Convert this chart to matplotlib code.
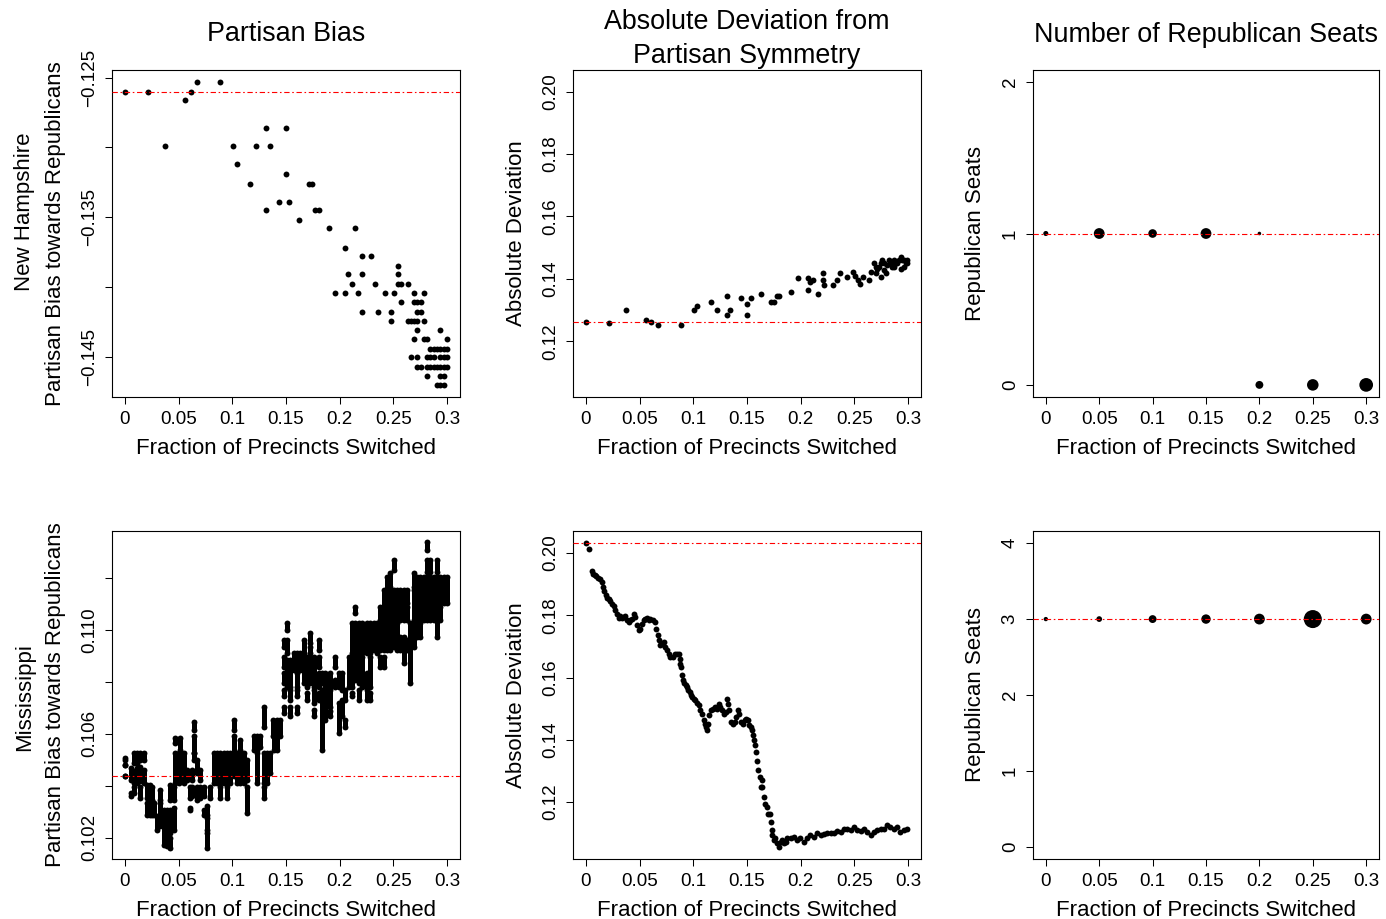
import numpy as np
import matplotlib
matplotlib.use("Agg")
import matplotlib.pyplot as plt

plt.rcParams['font.family'] = ['Liberation Sans', 'DejaVu Sans']

# ---------------- data ----------------
frac_ticks = [0, 0.05, 0.1, 0.15, 0.2, 0.25, 0.3]
frac_labels = ["0", "0.05", "0.1", "0.15", "0.2", "0.25", "0.3"]

# New Hampshire, partisan bias (x = fraction switched, y = bias)
nh_bias_pts = [
    (0.0676, -0.1253), (0.0887, -0.1253),
    (0.0000, -0.1260), (0.0217, -0.1260), (0.0614, -0.1260),
    (0.0555, -0.1266),
    (0.1314, -0.1286), (0.1504, -0.1286),
    (0.0369, -0.1299), (0.1011, -0.1299), (0.1225, -0.1299), (0.1349, -0.1299),
    (0.1042, -0.1312), (0.1504, -0.1319),
    (0.1166, -0.1326), (0.1711, -0.1326), (0.1745, -0.1326),
    (0.1438, -0.1339), (0.1531, -0.1339),
    (0.1314, -0.1345), (0.1773, -0.1345), (0.1807, -0.1345),
    (0.1624, -0.1352),
    (0.1897, -0.1358), (0.2142, -0.1358),
    (0.2049, -0.1372),
    (0.2204, -0.1378), (0.2294, -0.1378),
    (0.2542, -0.1385),
    (0.2080, -0.1391), (0.2204, -0.1391), (0.2542, -0.1391),
    (0.2111, -0.1398), (0.2325, -0.1398), (0.2542, -0.1398), (0.2573, -0.1398), (0.2632, -0.1398),
    (0.1959, -0.1404), (0.2049, -0.1404), (0.2173, -0.1404), (0.2418, -0.1404),
    (0.2508, -0.1404), (0.2691, -0.1404), (0.2784, -0.1404),
    (0.2573, -0.1411), (0.2691, -0.1411), (0.2722, -0.1411), (0.2753, -0.1411),
    (0.2204, -0.1418), (0.2356, -0.1418), (0.2480, -0.1418), (0.2722, -0.1418), (0.2753, -0.1418),
    (0.2480, -0.1424), (0.2632, -0.1424), (0.2663, -0.1424), (0.2691, -0.1424),
    (0.2722, -0.1424), (0.2784, -0.1424),
    (0.2722, -0.1431), (0.2936, -0.1431),
    (0.2691, -0.1437), (0.2784, -0.1437), (0.2815, -0.1437), (0.2998, -0.1437),
    (0.2843, -0.1444), (0.2874, -0.1444), (0.2905, -0.1444), (0.2936, -0.1444),
    (0.2967, -0.1444), (0.2998, -0.1444),
    (0.2663, -0.1450), (0.2722, -0.1450), (0.2815, -0.1450), (0.2843, -0.1450),
    (0.2874, -0.1450), (0.2936, -0.1450), (0.2967, -0.1450), (0.2998, -0.1450),
    (0.2722, -0.1457), (0.2753, -0.1457), (0.2815, -0.1457), (0.2843, -0.1457),
    (0.2874, -0.1457), (0.2905, -0.1457), (0.2936, -0.1457), (0.2967, -0.1457), (0.2998, -0.1457),
    (0.2815, -0.1464), (0.2936, -0.1464), (0.2967, -0.1464),
    (0.2905, -0.1470), (0.2936, -0.1470), (0.2967, -0.1470),
]
nh_bias_orig = -0.1260

# New Hampshire, absolute deviation from symmetry
nh_dev_pts = [
    (0.0000, 0.1261), (0.0214, 0.1258), (0.0369, 0.1299), (0.0556, 0.1267),
    (0.0610, 0.1261), (0.0673, 0.1253), (0.0887, 0.1254), (0.1010, 0.1299),
    (0.1036, 0.1313), (0.1161, 0.1325), (0.1222, 0.1299), (0.1315, 0.1346),
    (0.1315, 0.1286), (0.1346, 0.1299), (0.1441, 0.1338), (0.1503, 0.1320),
    (0.1503, 0.1286), (0.1534, 0.1338), (0.1627, 0.1352), (0.1720, 0.1326),
    (0.1750, 0.1326), (0.1780, 0.1346), (0.1800, 0.1346), (0.1911, 0.1358),
    (0.1973, 0.1404), (0.2065, 0.1404), (0.2087, 0.1391), (0.2118, 0.1398),
    (0.2065, 0.1365), (0.2159, 0.1352), (0.2211, 0.1419), (0.2211, 0.1398),
    (0.2220, 0.1380), (0.2304, 0.1380), (0.2335, 0.1398), (0.2366, 0.1419),
    (0.2428, 0.1406), (0.2490, 0.1422), (0.2506, 0.1411), (0.2537, 0.1398),
    (0.2553, 0.1385), (0.2584, 0.1407), (0.2637, 0.1398), (0.2652, 0.1422),
    (0.2683, 0.1450), (0.2699, 0.1418), (0.2714, 0.1431), (0.2730, 0.1439),
    (0.2745, 0.1407), (0.2761, 0.1461), (0.2776, 0.1428), (0.2792, 0.1418),
    (0.2807, 0.1445), (0.2823, 0.1461), (0.2839, 0.1450), (0.2854, 0.1439),
    (0.2870, 0.1461), (0.2885, 0.1450), (0.2901, 0.1450), (0.2916, 0.1461),
    (0.2932, 0.1471), (0.2932, 0.1431), (0.2947, 0.1461), (0.2963, 0.1461),
    (0.2978, 0.1450), (0.2994, 0.1450), (0.2994, 0.1461), (0.2963, 0.1439),
    (0.2870, 0.1439), (0.2776, 0.1450), (0.2745, 0.1450), (0.2699, 0.1439),
]
nh_dev_orig = 0.1261

# New Hampshire, seats (relative frequency sets the dot size)
nh_seat_x = [0, 0.05, 0.1, 0.15, 0.2, 0.2, 0.25, 0.3]
nh_seat_y = [1, 1, 1, 1, 1, 0, 0, 0]
nh_seat_freq = [0.94, 2.0, 1.6, 2.0, 0.66, 1.46, 2.14, 2.54]
nh_seat_orig = 1

# Mississippi, partisan bias: vertical runs of stacked dots (x, top, bottom)
ms_bias_runs = [
    (0.0000, 0.10437, 0.10437),
    (0.0005, 0.10506, 0.10500), (0.0005, 0.10481, 0.10481),
    (0.0057, 0.10468, 0.10423), (0.0057, 0.10372, 0.10359),
    (0.0082, 0.10526, 0.10487), (0.0082, 0.10455, 0.10410), (0.0082, 0.10397, 0.10372),
    (0.0113, 0.10526, 0.10487), (0.0113, 0.10468, 0.10410),
    (0.0144, 0.10526, 0.10500), (0.0144, 0.10474, 0.10417), (0.0144, 0.10397, 0.10353),
    (0.0175, 0.10526, 0.10500), (0.0175, 0.10462, 0.10410),
    (0.0206, 0.10404, 0.10353), (0.0206, 0.10333, 0.10288),
    (0.0237, 0.10404, 0.10353), (0.0237, 0.10333, 0.10288),
    (0.0253, 0.10397, 0.10346), (0.0253, 0.10340, 0.10288),
    (0.0268, 0.10333, 0.10288),
    (0.0299, 0.10282, 0.10231),
    (0.0330, 0.10385, 0.10346), (0.0330, 0.10333, 0.10244),
    (0.0361, 0.10308, 0.10263), (0.0361, 0.10244, 0.10173),
    (0.0392, 0.10308, 0.10218), (0.0392, 0.10218, 0.10167),
    (0.0423, 0.10404, 0.10346), (0.0423, 0.10308, 0.10218), (0.0423, 0.10199, 0.10160),
    (0.0454, 0.10397, 0.10346), (0.0454, 0.10314, 0.10231),
    (0.0470, 0.10583, 0.10564), (0.0470, 0.10526, 0.10410),
    (0.0501, 0.10526, 0.10410),
    (0.0516, 0.10583, 0.10538), (0.0516, 0.10526, 0.10423),
    (0.0547, 0.10526, 0.10410),
    (0.0578, 0.10462, 0.10423),
    (0.0603, 0.10397, 0.10353), (0.0603, 0.10314, 0.10308),
    (0.0625, 0.10462, 0.10423), (0.0625, 0.10397, 0.10359),
    (0.0641, 0.10647, 0.10615), (0.0641, 0.10590, 0.10526), (0.0641, 0.10526, 0.10500),
    (0.0672, 0.10500, 0.10449), (0.0672, 0.10397, 0.10346),
    (0.0703, 0.10462, 0.10423), (0.0703, 0.10397, 0.10353),
    (0.0734, 0.10397, 0.10359), (0.0734, 0.10308, 0.10288),
    (0.0765, 0.10321, 0.10288), (0.0765, 0.10276, 0.10231), (0.0765, 0.10218, 0.10160),
    (0.0796, 0.10397, 0.10353),
    (0.0827, 0.10526, 0.10410),
    (0.0858, 0.10526, 0.10410),
    (0.0889, 0.10526, 0.10410), (0.0889, 0.10397, 0.10353),
    (0.0920, 0.10526, 0.10410),
    (0.0951, 0.10526, 0.10410), (0.0951, 0.10397, 0.10353),
    (0.0982, 0.10526, 0.10410),
    (0.1013, 0.10654, 0.10615), (0.1013, 0.10590, 0.10526), (0.1013, 0.10526, 0.10436),
    (0.1044, 0.10526, 0.10410),
    (0.1075, 0.10577, 0.10538), (0.1075, 0.10526, 0.10410),
    (0.1106, 0.10526, 0.10410),
    (0.1137, 0.10500, 0.10423), (0.1137, 0.10397, 0.10295),
    (0.1199, 0.10590, 0.10538),
    (0.1230, 0.10590, 0.10538), (0.1230, 0.10526, 0.10410),
    (0.1261, 0.10590, 0.10551),
    (0.1292, 0.10705, 0.10628), (0.1292, 0.10526, 0.10410), (0.1292, 0.10397, 0.10353),
    (0.1323, 0.10526, 0.10410),
    (0.1354, 0.10526, 0.10449),
    (0.1377, 0.10654, 0.10590),
    (0.1385, 0.10590, 0.10538),
    (0.1416, 0.10654, 0.10590), (0.1416, 0.10590, 0.10538),
    (0.1447, 0.10654, 0.10590),
    (0.1478, 0.10962, 0.10936), (0.1478, 0.10897, 0.10859), (0.1478, 0.10833, 0.10795),
    (0.1478, 0.10769, 0.10744), (0.1478, 0.10705, 0.10679),
    (0.1509, 0.11026, 0.11000), (0.1509, 0.10962, 0.10910), (0.1509, 0.10885, 0.10782),
    (0.1540, 0.10885, 0.10782), (0.1540, 0.10769, 0.10731), (0.1540, 0.10705, 0.10667),
    (0.1571, 0.10910, 0.10846),
    (0.1602, 0.10910, 0.10846), (0.1602, 0.10833, 0.10782), (0.1602, 0.10769, 0.10744),
    (0.1602, 0.10705, 0.10679),
    (0.1633, 0.10910, 0.10846),
    (0.1664, 0.10962, 0.10910), (0.1664, 0.10897, 0.10795),
    (0.1695, 0.10897, 0.10782), (0.1695, 0.10756, 0.10731),
    (0.1726, 0.10987, 0.10949), (0.1726, 0.10936, 0.10910), (0.1726, 0.10897, 0.10795),
    (0.1757, 0.10897, 0.10782), (0.1757, 0.10769, 0.10718), (0.1757, 0.10692, 0.10667),
    (0.1804, 0.10962, 0.10923), (0.1804, 0.10897, 0.10859), (0.1804, 0.10833, 0.10782),
    (0.1804, 0.10756, 0.10731),
    (0.1835, 0.10833, 0.10795), (0.1835, 0.10769, 0.10538),
    (0.1866, 0.10833, 0.10654),
    (0.1912, 0.10833, 0.10782), (0.1912, 0.10769, 0.10705), (0.1912, 0.10686, 0.10667),
    (0.1958, 0.10897, 0.10859), (0.1958, 0.10808, 0.10782),
    (0.1989, 0.10833, 0.10782), (0.1989, 0.10718, 0.10602),
    (0.2020, 0.10833, 0.10769), (0.2020, 0.10731, 0.10667),
    (0.2051, 0.10769, 0.10731), (0.2051, 0.10654, 0.10628),
    (0.2083, 0.10897, 0.10782),
    (0.2114, 0.11026, 0.10910), (0.2114, 0.10897, 0.10846), (0.2114, 0.10833, 0.10782),
    (0.2114, 0.10756, 0.10744),
    (0.2145, 0.11090, 0.11064), (0.2145, 0.11026, 0.10910), (0.2145, 0.10897, 0.10808),
    (0.2176, 0.11026, 0.10910), (0.2176, 0.10897, 0.10795), (0.2176, 0.10769, 0.10731),
    (0.2207, 0.11026, 0.10910), (0.2207, 0.10897, 0.10782),
    (0.2254, 0.11026, 0.10910), (0.2254, 0.10833, 0.10782), (0.2254, 0.10769, 0.10731),
    (0.2285, 0.11026, 0.10910), (0.2285, 0.10897, 0.10782), (0.2285, 0.10756, 0.10731),
    (0.2316, 0.11026, 0.10923),
    (0.2347, 0.11026, 0.10910),
    (0.2378, 0.11090, 0.11038), (0.2378, 0.11026, 0.10923), (0.2378, 0.10897, 0.10859),
    (0.2409, 0.11154, 0.11038), (0.2409, 0.11026, 0.10923), (0.2409, 0.10897, 0.10859),
    (0.2440, 0.11205, 0.11103), (0.2440, 0.11090, 0.11038), (0.2440, 0.11026, 0.10923),
    (0.2471, 0.11218, 0.11167), (0.2471, 0.11154, 0.11038), (0.2471, 0.11026, 0.10923),
    (0.2502, 0.11269, 0.11231), (0.2502, 0.11154, 0.11038), (0.2502, 0.11026, 0.10936),
    (0.2533, 0.11154, 0.11038), (0.2533, 0.11026, 0.10923),
    (0.2564, 0.11154, 0.11038), (0.2564, 0.10974, 0.10923),
    (0.2595, 0.11154, 0.11038), (0.2595, 0.10974, 0.10872),
    (0.2626, 0.11154, 0.11103), (0.2626, 0.11090, 0.11038), (0.2626, 0.10962, 0.10923),
    (0.2657, 0.11026, 0.10795),
    (0.2688, 0.11218, 0.11167), (0.2688, 0.11154, 0.11038), (0.2688, 0.11026, 0.10936),
    (0.2719, 0.11205, 0.11167), (0.2719, 0.11154, 0.11038), (0.2719, 0.11026, 0.10974),
    (0.2750, 0.11205, 0.11154), (0.2750, 0.11154, 0.11038), (0.2750, 0.11026, 0.10974),
    (0.2781, 0.11205, 0.11167), (0.2781, 0.11154, 0.11038),
    (0.2812, 0.11340, 0.11308), (0.2812, 0.11269, 0.11224), (0.2812, 0.11205, 0.11167),
    (0.2812, 0.11154, 0.11038),
    (0.2843, 0.11269, 0.11224), (0.2843, 0.11205, 0.11103), (0.2843, 0.11090, 0.11038),
    (0.2874, 0.11205, 0.11103), (0.2874, 0.11090, 0.11038),
    (0.2905, 0.11269, 0.11224), (0.2905, 0.11205, 0.11103), (0.2905, 0.11090, 0.10974),
    (0.2936, 0.11205, 0.11103), (0.2936, 0.11090, 0.11038),
    (0.2967, 0.11205, 0.11103),
    (0.2998, 0.11205, 0.11103),
]
ms_bias_orig = 0.10437

# Mississippi, absolute deviation from symmetry
ms_dev_x = [
    0.0000, 0.0033, 0.0057, 0.0067, 0.0082, 0.0098, 0.0113, 0.0135, 0.0148, 0.0160,
    0.0172, 0.0185, 0.0197, 0.0213, 0.0228, 0.0244, 0.0259, 0.0275, 0.0290, 0.0306,
    0.0321, 0.0337, 0.0352, 0.0368, 0.0384, 0.0399, 0.0415, 0.0430, 0.0446, 0.0461,
    0.0477, 0.0492, 0.0508, 0.0523, 0.0539, 0.0554, 0.0570, 0.0585, 0.0601, 0.0626,
    0.0648, 0.0657, 0.0669, 0.0682, 0.0694, 0.0710, 0.0725, 0.0741, 0.0756, 0.0772,
    0.0787, 0.0812, 0.0834, 0.0849, 0.0865, 0.0874, 0.0880, 0.0887, 0.0896, 0.0905,
    0.0918, 0.0930, 0.0943, 0.0955, 0.0967, 0.0980, 0.0992, 0.1005, 0.1020, 0.1036,
    0.1051, 0.1067, 0.1082, 0.1098, 0.1107, 0.1119, 0.1129, 0.1138, 0.1150, 0.1166,
    0.1185, 0.1206, 0.1222, 0.1238, 0.1253, 0.1269, 0.1284, 0.1300, 0.1315, 0.1325,
    0.1337, 0.1353, 0.1368, 0.1384, 0.1399, 0.1415, 0.1430, 0.1446, 0.1461, 0.1477,
    0.1492, 0.1508, 0.1520, 0.1533, 0.1545, 0.1554, 0.1564, 0.1573, 0.1585, 0.1595,
    0.1607, 0.1620, 0.1626, 0.1635, 0.1644, 0.1657, 0.1669, 0.1682, 0.1694, 0.1713,
    0.1725, 0.1731, 0.1737, 0.1750, 0.1765, 0.1781, 0.1796, 0.1812, 0.1828, 0.1843,
    0.1859, 0.1874, 0.1905, 0.1936, 0.1967, 0.1998, 0.2029, 0.2060, 0.2091, 0.2122,
    0.2154, 0.2185, 0.2216, 0.2247, 0.2278, 0.2309, 0.2340, 0.2371, 0.2402, 0.2433,
    0.2464, 0.2495, 0.2526, 0.2557, 0.2588, 0.2619, 0.2650, 0.2681, 0.2712, 0.2743,
    0.2774, 0.2805, 0.2836, 0.2867, 0.2898, 0.2929, 0.2960, 0.2991,
]
ms_dev_y = [
    0.2032, 0.2014, 0.1941, 0.1934, 0.1930, 0.1925, 0.1920, 0.1916, 0.1907, 0.1891,
    0.1878, 0.1864, 0.1857, 0.1853, 0.1846, 0.1837, 0.1829, 0.1816, 0.1805, 0.1792,
    0.1797, 0.1792, 0.1795, 0.1797, 0.1784, 0.1779, 0.1784, 0.1789, 0.1805, 0.1795,
    0.1768, 0.1752, 0.1757, 0.1773, 0.1784, 0.1789, 0.1792, 0.1784, 0.1789, 0.1786,
    0.1779, 0.1757, 0.1736, 0.1720, 0.1704, 0.1709, 0.1714, 0.1698, 0.1688, 0.1677,
    0.1666, 0.1666, 0.1677, 0.1675, 0.1675, 0.1661, 0.1645, 0.1634, 0.1607, 0.1591,
    0.1581, 0.1575, 0.1570, 0.1559, 0.1554, 0.1543, 0.1538, 0.1532, 0.1527, 0.1519,
    0.1511, 0.1495, 0.1484, 0.1463, 0.1452, 0.1442, 0.1431, 0.1452, 0.1479, 0.1495,
    0.1500, 0.1506, 0.1500, 0.1514, 0.1506, 0.1495, 0.1482, 0.1490, 0.1532, 0.1516,
    0.1495, 0.1458, 0.1452, 0.1458, 0.1474, 0.1495, 0.1484, 0.1458, 0.1452, 0.1463,
    0.1468, 0.1463, 0.1447, 0.1442, 0.1431, 0.1415, 0.1399, 0.1383, 0.1361, 0.1332,
    0.1302, 0.1281, 0.1249, 0.1270, 0.1249, 0.1217, 0.1195, 0.1185, 0.1163, 0.1163,
    0.1137, 0.1110, 0.1094, 0.1078, 0.1083, 0.1067, 0.1056, 0.1072, 0.1078, 0.1067,
    0.1072, 0.1083, 0.1083, 0.1088, 0.1078, 0.1083, 0.1072, 0.1083, 0.1094, 0.1088,
    0.1099, 0.1094, 0.1097, 0.1101, 0.1099, 0.1101, 0.1108, 0.1104, 0.1112, 0.1115,
    0.1110, 0.1121, 0.1110, 0.1108, 0.1115, 0.1104, 0.1094, 0.1104, 0.1110, 0.1115,
    0.1112, 0.1126, 0.1121, 0.1115, 0.1121, 0.1104, 0.1110, 0.1115,
]
ms_dev_orig = 0.2032

# Mississippi, seats
ms_seat_x = [0, 0.05, 0.1, 0.15, 0.2, 0.25, 0.3]
ms_seat_y = [3, 3, 3, 3, 3, 3, 3]
ms_seat_freq = [0.8, 1.06, 1.46, 1.74, 2.0, 3.34, 2.0]
ms_seat_orig = 3

# ---------------- layout ----------------
W, H = 1386, 919
fig = plt.figure(figsize=(W / 100, H / 100), dpi=100)


def box(l, t, r, b):
    return [l / W, 1 - b / H, (r - l) / W, (b - t) / H]


cols = [(112, 460), (573, 921), (1033, 1379)]
rows = [(70, 397), (531, 859)]

DOT = 18            # marker area for the small filled dots
RUN_W = 3.6         # width of a stack of dots, points
RED = dict(color="#ff0000", lw=0.8, ls=(0, (4.8, 2.4, 1.44, 2.4)), zorder=5)


def setup(ax, ylim, yticks, ylabels, ylab):
    ax.set_xlim(-0.012, 0.312)
    ax.set_xticks(frac_ticks)
    ax.set_xticklabels(frac_labels)
    ax.set_ylim(*ylim)
    ax.set_yticks(yticks)
    ax.set_yticklabels(ylabels, rotation=90, va="center")
    ax.tick_params(length=5.2, width=0.75, pad=5, labelsize=13.5, direction="out")
    for s in ax.spines.values():
        s.set_linewidth(0.8)
    w = ax.get_position().width * W
    h = ax.get_position().height * H
    ax.text(-57 / w, 0.5, ylab, rotation=90, ha="center", va="center",
            fontsize=16, transform=ax.transAxes)
    ax.text(0.5, -57 / h, "Fraction of Precincts Switched", ha="center",
            va="baseline", fontsize=16, transform=ax.transAxes)


def seat_area(freq):
    return (np.array(freq) * 5.4 * 0.72) ** 2


axs = [[fig.add_axes(box(c[0], r[0], c[1], r[1])) for c in cols] for r in rows]

# --- NH bias
ax = axs[0][0]
x, y = zip(*nh_bias_pts)
ax.scatter(x, y, s=DOT, c="black", linewidths=0)
ax.axhline(nh_bias_orig, **RED)
setup(ax, (-0.14787, -0.12446), [-0.145, -0.14, -0.135, -0.13, -0.125],
      ["\u22120.145", "", "\u22120.135", "", "\u22120.125"],
      "Partisan Bias towards Republicans")

# --- NH deviation
ax = axs[0][1]
x, y = zip(*nh_dev_pts)
ax.scatter(x, y, s=DOT, c="black", linewidths=0)
ax.axhline(nh_dev_orig, **RED)
setup(ax, (0.1022, 0.2069), [0.12, 0.14, 0.16, 0.18, 0.20],
      ["0.12", "0.14", "0.16", "0.18", "0.20"], "Absolute Deviation")

# --- NH seats
ax = axs[0][2]
ax.scatter(nh_seat_x, nh_seat_y, s=seat_area(nh_seat_freq), c="black", linewidths=0)
ax.axhline(nh_seat_orig, **RED)
setup(ax, (-0.08, 2.08), [0, 1, 2], ["0", "1", "2"], "Republican Seats")

# --- MS bias
ax = axs[1][0]
rx, rtop, rbot = map(np.array, zip(*ms_bias_runs))
lc = ax.vlines(rx, rbot, rtop, colors="black", linewidth=RUN_W)
lc.set_capstyle("round")
ax.scatter(np.r_[rx, rx], np.r_[rtop, rbot], s=DOT, c="black", linewidths=0)
ax.axhline(ms_bias_orig, **RED)
setup(ax, (0.10118, 0.11381), [0.102, 0.104, 0.106, 0.108, 0.110, 0.112],
      ["0.102", "", "0.106", "", "0.110", ""],
      "Partisan Bias towards Republicans")

# --- MS deviation
ax = axs[1][1]
ax.scatter(ms_dev_x, ms_dev_y, s=DOT, c="black", linewidths=0)
ax.axhline(ms_dev_orig, **RED)
setup(ax, (0.1017, 0.2071), [0.12, 0.14, 0.16, 0.18, 0.20],
      ["0.12", "0.14", "0.16", "0.18", "0.20"], "Absolute Deviation")

# --- MS seats
ax = axs[1][2]
ax.scatter(ms_seat_x, ms_seat_y, s=seat_area(ms_seat_freq), c="black", linewidths=0)
ax.axhline(ms_seat_orig, **RED)
setup(ax, (-0.16, 4.16), [0, 1, 2, 3, 4], ["0", "1", "2", "3", "4"],
      "Republican Seats")

# titles
h0 = 327
axs[0][0].text(0.5, 1 + 29 / h0, "Partisan Bias", ha="center", va="baseline",
               fontsize=19.4, transform=axs[0][0].transAxes)
axs[0][1].text(0.5, 1 + 40.7 / h0, "Absolute Deviation from", ha="center",
               va="baseline", fontsize=19.4, transform=axs[0][1].transAxes)
axs[0][1].text(0.5, 1 + 7.3 / h0, "Partisan Symmetry", ha="center",
               va="baseline", fontsize=19.4, transform=axs[0][1].transAxes)
axs[0][2].text(0.5, 1 + 28.5 / h0, "Number of Republican Seats", ha="center",
               va="baseline", fontsize=19.4, transform=axs[0][2].transAxes)

# row labels
fig.text(25 / W, 1 - 212 / H, "New Hampshire", rotation=90, ha="center",
         va="center", fontsize=16)
fig.text(25 / W, 1 - 697 / H, "Mississippi", rotation=90, ha="center",
         va="center", fontsize=16)

fig.savefig("out.png", dpi=100)
